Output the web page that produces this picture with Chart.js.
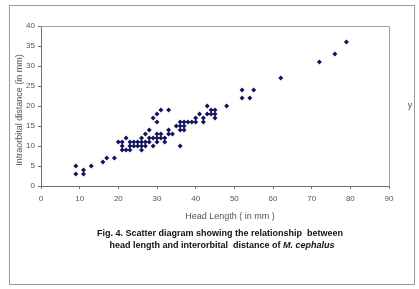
<!DOCTYPE html>
<html>
<head>
<meta charset="utf-8">
<script src="https://cdn.jsdelivr.net/npm/chart.js@4/dist/chart.umd.min.js"></script>
<style>
  html, body { margin: 0; padding: 0; background: #fff; }
  canvas { display: block; }
</style>
</head>
<body>
<canvas id="c" width="419" height="289"></canvas>
<script>
// head length (mm) / interorbital distance (mm)
const headLength = [9, 9, 11, 11, 13, 16, 17, 19,
  20, 21, 21, 21, 22, 22, 23, 23, 23, 24, 24, 25, 25,
  26, 26, 26, 26, 27, 27, 27, 28, 28, 28, 29, 29, 29,
  30, 30, 30, 30, 30, 31, 31, 31, 32, 32, 33, 33, 33, 34, 35,
  36, 36, 36, 36, 37, 37, 37, 38, 39, 40, 40, 41, 42, 42, 43, 43,
  44, 44, 45, 45, 45, 48, 52, 52, 54, 55, 62, 72, 76, 79]
const interorbital = [5, 3, 4, 3, 5, 6, 7, 7,
  11, 11, 10, 9, 12, 9, 11, 10, 9, 11, 10, 11, 10,
  12, 11, 10, 9, 13, 11, 10, 14, 12, 11, 17, 12, 10,
  18, 16, 13, 12, 11, 19, 13, 12, 12, 11, 19, 14, 13, 13, 15,
  16, 15, 14, 10, 16, 15, 14, 16, 16, 17, 16, 18, 17, 16, 20, 18,
  19, 18, 19, 18, 17, 20, 24, 22, 22, 24, 27, 31, 33, 36]
const xTicks = [0, 10, 20, 30, 40, 50, 60, 70, 80, 90]
const yTicks = [0, 5, 10, 15, 20, 25, 30, 35, 40]

const narrow = "'Liberation Sans Narrow', 'Liberation Sans', Arial, sans-serif"
const plain = "'Liberation Sans', Arial, sans-serif"

let points = headLength.map((x, i) => ({ x: x, y: interorbital[i] }))

// frame, plot border and the loose texts round the plot
const decor = {
  id: 'decor',
  beforeDraw(chart){
    const ctx = chart.ctx
    ctx.save()
    ctx.fillStyle = '#fff'
    ctx.fillRect(0, 0, chart.width, chart.height)
    ctx.strokeStyle = '#9a9a9a'
    ctx.lineWidth = 1
    ctx.strokeRect(9.5, 5.5, 405, 279)
    ctx.restore()
  },
  afterDraw(chart){
    const ctx = chart.ctx
    const a = chart.chartArea
    ctx.save()
    ctx.strokeStyle = '#a0a0a0'
    ctx.lineWidth = 1
    ctx.beginPath()
    ctx.moveTo(a.left, a.top + 0.5)
    ctx.lineTo(a.right + 0.5, a.top + 0.5)
    ctx.lineTo(a.right + 0.5, a.bottom)
    ctx.stroke()

    ctx.fillStyle = '#555'
    ctx.textAlign = 'center'
    ctx.textBaseline = 'middle'
    ctx.font = '9px ' + narrow
    ctx.fillText('Head Length ( in mm )', 230, 217)
    ctx.fillText('y', 410, 106)

    ctx.save()
    ctx.translate(20, 110)
    ctx.rotate(-Math.PI / 2)
    ctx.font = '9px ' + plain
    ctx.fillText('Intraorbital distance (in mm)', 0, 0)
    ctx.restore()

    ctx.fillStyle = '#111'
    ctx.font = 'bold 9px ' + narrow
    ctx.fillText('Fig. 4. Scatter diagram showing the relationship  between', 220, 234)
    let s1 = 'head length and interorbital  distance of '
    let s2 = 'M. cephalus'
    ctx.font = 'bold 9px ' + narrow
    let w1 = ctx.measureText(s1).width
    ctx.font = 'italic bold 9px ' + narrow
    let w2 = ctx.measureText(s2).width
    let x0 = 222 - (w1 + w2) / 2
    ctx.textAlign = 'left'
    ctx.font = 'bold 9px ' + narrow
    ctx.fillText(s1, x0, 246)
    ctx.font = 'italic bold 9px ' + narrow
    ctx.fillText(s2, x0 + w1, 246)
    ctx.restore()
  }
}

new Chart(document.getElementById('c'), {
  type: 'scatter',
  data: {
    datasets: [{
      data: points,
      pointStyle: 'rectRot',
      radius: 2.5,
      hoverRadius: 2.5,
      borderWidth: 0,
      backgroundColor: '#14145c'
    }]
  },
  options: {
    responsive: false,
    animation: false,
    devicePixelRatio: 1,
    layout: { padding: { left: 0, top: 26, right: 30, bottom: 0 } },
    plugins: { legend: { display: false }, tooltip: { enabled: false } },
    scales: {
      x: {
        type: 'linear',
        min: 0, max: 90,
        afterBuildTicks: s => { s.ticks = xTicks.map(v => ({ value: v })) },
        afterFit: s => { s.height = 103 },
        grid: { display: true, drawOnChartArea: false, tickLength: 3, color: '#707070' },
        border: { display: true, color: '#707070' },
        ticks: { color: '#555', padding: 5, maxRotation: 0, font: { family: narrow, size: 8 } }
      },
      y: {
        type: 'linear',
        min: 0, max: 40,
        afterBuildTicks: s => { s.ticks = yTicks.map(v => ({ value: v })) },
        afterFit: s => { s.width = 41 },
        grid: { display: true, drawOnChartArea: false, tickLength: 3, color: '#707070' },
        border: { display: true, color: '#707070' },
        ticks: { color: '#555', padding: 3, font: { family: narrow, size: 8 } }
      }
    }
  },
  plugins: [decor]
})
</script>
</body>
</html>
